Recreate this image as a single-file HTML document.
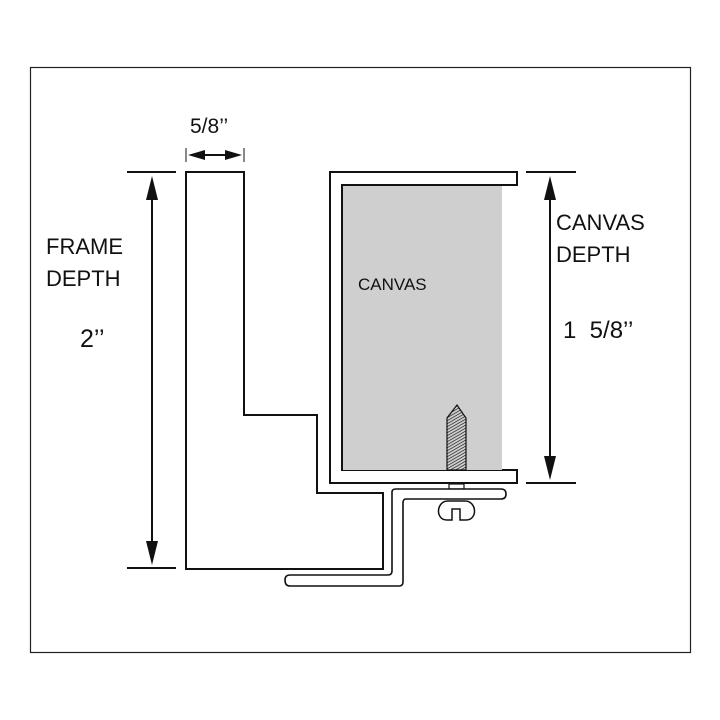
<!DOCTYPE html>
<html><head><style>body{margin:0;background:#fff}svg{display:block}text{font-family:"Liberation Sans",sans-serif;fill:#111}</style></head><body>
<svg width="720" height="720" viewBox="0 0 720 720">
<rect x="30.5" y="67.5" width="660" height="585" fill="none" stroke="#222" stroke-width="1.2"/>
<path d="M186 172H244V415H317V493H383V569H186Z" fill="#fff" stroke="#111" stroke-width="2"/>
<path d="M330 172H517V185H342V470H517V483H330Z" fill="#fff" stroke="#111" stroke-width="2"/>
<rect x="343" y="186" width="159" height="284" fill="#cfcfcf"/>
<defs><pattern id="h" width="4" height="2.6" patternUnits="userSpaceOnUse" patternTransform="rotate(-30)"><line x1="0" y1="0" x2="4" y2="0" stroke="#111" stroke-width="1.3"/></pattern></defs>
<path d="M447 470V418L457 405L466 418V470Z" fill="url(#h)" stroke="#111" stroke-width="1.2"/>
<rect x="449" y="484" width="15" height="5" fill="#fff" stroke="#111" stroke-width="1.2"/>
<path d="M448 501C436 501 435 520 447 520H452V509H460V520H466C478 520 477 501 465 501Z" fill="#fff" stroke="#111" stroke-width="1.5"/>
<path d="M392 492Q392 489 396 489H501Q506 489 506 494Q506 499 501 499H406Q403 499 403 503V582Q403 586 399 586H290Q285 586 285 580Q285 575 290 575H388Q392 575 392 571Z" fill="#fff" stroke="#111" stroke-width="1.6"/>
<g stroke="#111" stroke-width="2">
<line x1="127" y1="172" x2="176" y2="172"/><line x1="127" y1="568" x2="176" y2="568"/>
<line x1="152" y1="190" x2="152" y2="550"/>
<line x1="526" y1="172" x2="576" y2="172"/><line x1="526" y1="483" x2="576" y2="483"/>
<line x1="550" y1="190" x2="550" y2="465"/>
<line x1="196" y1="155" x2="234" y2="155"/>
<line x1="186" y1="148" x2="186" y2="162" stroke-width="1"/><line x1="244" y1="148" x2="244" y2="162" stroke-width="1"/>
</g>
<g fill="#111">
<path d="M152 176L146 200H158Z"/><path d="M152 565L146 541H158Z"/>
<path d="M550 176L544 200H556Z"/><path d="M550 480L544 456H556Z"/>
<path d="M188 155L205 150V160Z"/><path d="M242 155L225 150V160Z"/>
</g>
<text x="190" y="133" font-size="21">5/8’’</text>
<text x="46" y="254" font-size="22">FRAME</text>
<text x="46" y="286" font-size="22">DEPTH</text>
<text x="80" y="347" font-size="25">2’’</text>
<text x="358" y="290" font-size="17">CANVAS</text>
<text x="556" y="230" font-size="22">CANVAS</text>
<text x="556" y="262" font-size="22">DEPTH</text>
<text x="563" y="338" font-size="24" xml:space="preserve">1  5/8’’</text>
</svg>
</body></html>
